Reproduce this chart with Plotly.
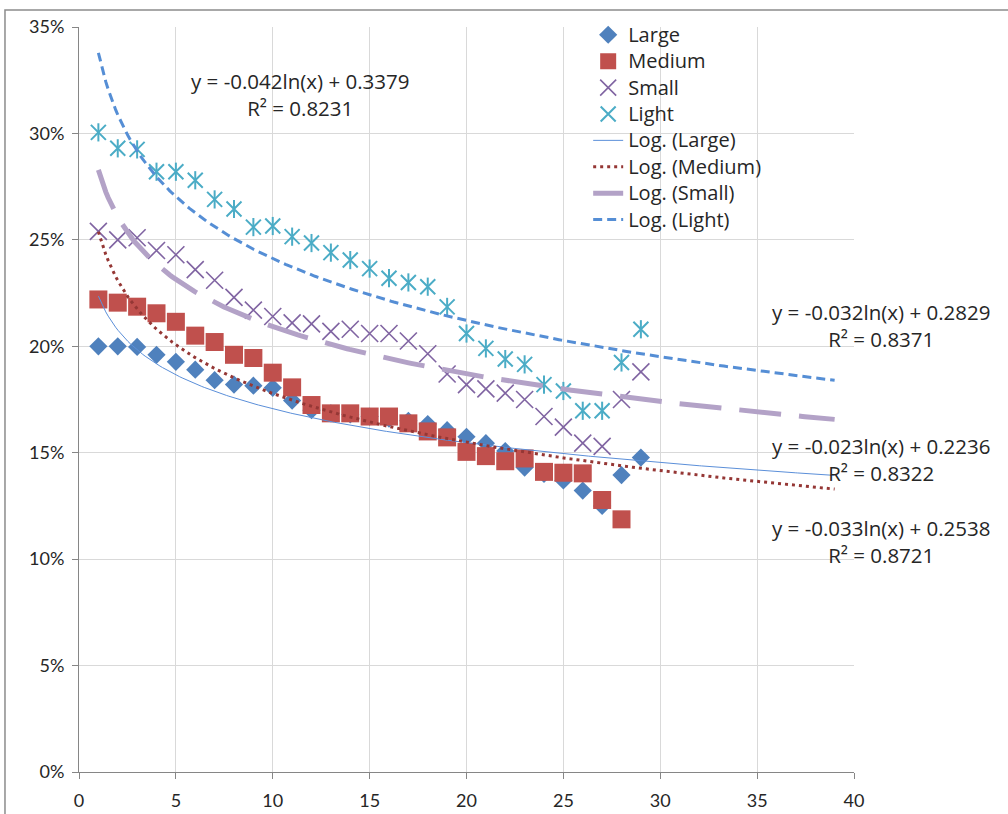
import numpy as np
import plotly.graph_objects as go

# ---- data (percent values) ----
x_vals = list(range(1, 30))

large_pct = [20.0, 20.0, 19.97, 19.6, 19.27, 18.9, 18.41, 18.2, 18.15, 18.05,
             17.45, 17.0, 16.85, 16.8, 16.7, 16.6, 16.5, 16.35, 16.06, 15.75,
             15.45, 15.08, 14.3, 14.0, 13.7, 13.22, 12.5, 13.95, 14.77]

medium_x = list(range(1, 29))
medium_pct = [22.2, 22.05, 21.86, 21.55, 21.15, 20.5, 20.2, 19.6, 19.45, 18.76,
              18.07, 17.24, 16.85, 16.85, 16.7, 16.7, 16.38, 16.0, 15.72, 15.04,
              14.84, 14.6, 14.73, 14.1, 14.06, 14.03, 12.78, 11.87]

small_pct = [25.4, 25.0, 25.1, 24.5, 24.3, 23.6, 23.1, 22.3, 21.7, 21.4,
             21.1, 21.05, 20.7, 20.8, 20.6, 20.6, 20.25, 19.65, 18.7, 18.2,
             18.0, 17.8, 17.5, 16.7, 16.2, 15.45, 15.3, 17.5, 18.8]

light_pct = [30.05, 29.3, 29.25, 28.2, 28.2, 27.8, 26.9, 26.45, 25.6, 25.65,
             25.15, 24.85, 24.4, 24.05, 23.65, 23.2, 23.0, 22.8, 21.85, 20.6,
             19.9, 19.4, 19.15, 18.2, 17.9, 16.97, 16.97, 19.24, 20.8]

# trendline coefficients shown on the chart: y = a*ln(x) + b
series_names = ["Large", "Medium", "Small", "Light"]
trend_a = [-0.023, -0.033, -0.032, -0.042]
trend_b = [0.2236, 0.2538, 0.2829, 0.3379]
trend_r2 = ["0.8322", "0.8721", "0.8371", "0.8231"]
trend_x_end = 39

x_ticks = [0, 5, 10, 15, 20, 25, 30, 35, 40]
y_ticks = [0, 0.05, 0.10, 0.15, 0.20, 0.25, 0.30, 0.35]

TICK_FONT = "Lato"
TEXT_FONT = "Open Sans"
TEXT_COLOR = "#262626"
LIGHT_COLOR = "#4BACC6"


def big(s, px=20):
    return f'<span style="font-size:{px}px">{s}</span>'


fig = go.Figure()

# markers
fig.add_trace(go.Scatter(
    x=x_vals, y=np.array(large_pct) / 100, mode="markers", name=big("Large"),
    marker=dict(symbol="diamond", size=14, color="#4F81BD")))
fig.add_trace(go.Scatter(
    x=medium_x, y=np.array(medium_pct) / 100, mode="markers", name=big("Medium"),
    marker=dict(symbol="square", size=18, color="#C0504D")))
fig.add_trace(go.Scatter(
    x=x_vals, y=np.array(small_pct) / 100, mode="markers", name=big("Small"),
    marker=dict(symbol="x-thin", size=17, color="#8064A2",
                line=dict(color="#8064A2", width=1.6))))
# Light: star marker = X plus vertical bar
fig.add_trace(go.Scatter(
    x=x_vals, y=np.array(light_pct) / 100, mode="markers", name=big("Light"),
    legendgroup="light",
    marker=dict(symbol="x-thin", size=15, color=LIGHT_COLOR,
                line=dict(color=LIGHT_COLOR, width=2))))
fig.add_trace(go.Scatter(
    x=x_vals, y=np.array(light_pct) / 100, mode="markers", name="Light bar",
    legendgroup="light", showlegend=False,
    marker=dict(symbol="line-ns", size=13, color=LIGHT_COLOR,
                line=dict(color=LIGHT_COLOR, width=2))))

# trendlines
line_styles = [
    dict(color="#5B8FD9", width=1, dash="solid"),
    dict(color="#953735", width=3, dash="3px,4px"),
    dict(color="#B3A2C7", width=5, dash="42px,18px"),
    dict(color="#558ED5", width=3, dash="9px,5px"),
]
tx = np.linspace(1, trend_x_end, 300)
for name, a, b, st in zip(series_names, trend_a, trend_b, line_styles):
    fig.add_trace(go.Scatter(
        x=tx, y=a * np.log(tx) + b, mode="lines", name=big(f"Log. ({name})"),
        line=st))

# equation labels
def eq_text(a, b, r2):
    return f"y = {a:.3f}ln(x) + {b:.4f}<br>R² = {r2}"

eq_pos = {  # paper coordinates
    "Light": (0.285, 0.909),
    "Small": (1.035, 0.600),
    "Large": (1.035, 0.419),
    "Medium": (1.035, 0.309),
}
for name, a, b, r2 in zip(series_names, trend_a, trend_b, trend_r2):
    px, py = eq_pos[name]
    fig.add_annotation(
        x=px, y=py, xref="paper", yref="paper", text=eq_text(a, b, r2),
        showarrow=False, align="center", xanchor="center", yanchor="middle",
        font=dict(family=TEXT_FONT, size=20.5, color=TEXT_COLOR))

# outer chart border
fig.add_shape(type="rect", xref="paper", yref="paper",
              x0=-0.0955, x1=1.25, y0=-0.2, y1=1.0228,
              line=dict(color="#8C8C8C", width=1.5), fillcolor="rgba(0,0,0,0)",
              layer="below")

fig.update_layout(
    width=1008, height=814,
    margin=dict(l=79, r=154, t=27, b=42, autoexpand=False),
    paper_bgcolor="white", plot_bgcolor="white",
    font=dict(family=TEXT_FONT, size=18, color=TEXT_COLOR),
    showlegend=True,
    legend=dict(x=0.657, y=1.014, xanchor="left", yanchor="top",
                bgcolor="rgba(0,0,0,0)", borderwidth=0,
                font=dict(family=TEXT_FONT, size=18, color=TEXT_COLOR),
                itemwidth=30, tracegroupgap=0),
    xaxis=dict(range=[0, 40], tickvals=x_ticks, showgrid=True,
               gridcolor="#D9D9D9", gridwidth=1, showline=True,
               linecolor="#868686", linewidth=1, ticks="outside",
               ticklen=6, tickcolor="#868686", zeroline=False,
               ticklabelstandoff=6, automargin=False,
               tickfont=dict(family=TICK_FONT, size=18, color=TEXT_COLOR)),
    yaxis=dict(range=[0, 0.35], tickvals=y_ticks, tickformat=".0%",
               showgrid=True, gridcolor="#D9D9D9", gridwidth=1,
               showline=True, linecolor="#868686", linewidth=1,
               ticks="outside", ticklen=6, tickcolor="#868686",
               zeroline=False, ticklabelstandoff=4, automargin=False,
               tickfont=dict(family=TICK_FONT, size=18, color=TEXT_COLOR)),
)

fig.write_html("out.html", config={"displayModeBar": False},
               post_script="document.body.style.margin='0';")
